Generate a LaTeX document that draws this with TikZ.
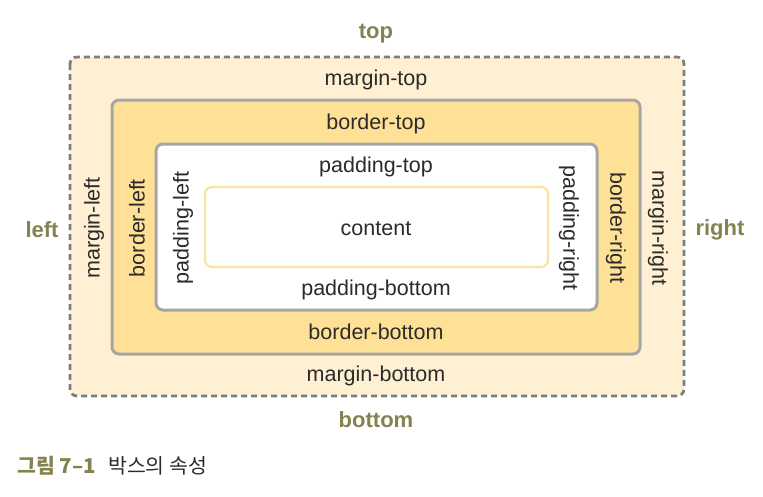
\documentclass[tikz,border=0pt]{standalone}
\usepackage{fontspec}
\setmainfont{Liberation Sans}
\newfontfamily\kofont{Noto Sans CJK KR}
\definecolor{olive}{HTML}{84834F}
\definecolor{marginfill}{HTML}{FFF0D3}
\definecolor{borderfill}{HTML}{FEE196}
\definecolor{boxgray}{HTML}{A6A6A6}
\definecolor{dashgray}{HTML}{7E7E7E}
\definecolor{contentline}{HTML}{FBE3A2}
\definecolor{txt}{HTML}{2B2B2B}
\tikzset{
  lbl/.style={text=txt,font=\fontsize{21.5}{25}\selectfont,inner sep=0pt},
  side/.style={text=olive,font=\bfseries\fontsize{22}{26}\selectfont,inner sep=0pt},
}
\begin{document}
\begin{tikzpicture}[x=1pt,y=-1pt]
\useasboundingbox (0,0) rectangle (763,496);
% margin
\draw[fill=marginfill,draw=dashgray,line width=2.8pt,dash pattern=on 6pt off 4pt,rounded corners=7pt] (70,57) rectangle (684,396);
% border
\draw[fill=borderfill,draw=boxgray,line width=3pt,rounded corners=7pt] (112,100) rectangle (640,354);
% padding
\draw[fill=white,draw=boxgray,line width=3pt,rounded corners=7pt] (156,144) rectangle (597,310);
% content
\draw[fill=white,draw=contentline,line width=2.2pt,rounded corners=7pt] (205,187) rectangle (548,267);
% side labels
\node[side] (top) at (376,34) {top};
\node[side] (left) at (42,230) {left};
\node[side] (right) at (720,230) {right};
\node[side] (bottom) at (376,420) {bottom};
% horizontal labels
\node[lbl] (mt) at (376,80) {margin-top};
\node[lbl] (bt) at (376,124) {border-top};
\node[lbl] (pt) at (376,167) {padding-top};
\node[lbl] (ct) at (376,229) {content};
\node[lbl] (pb) at (376,290) {padding-bottom};
\node[lbl] (bb) at (376,332) {border-bottom};
\node[lbl] (mb) at (376,376) {margin-bottom};
% vertical labels
\node[lbl,rotate=90] (ml) at (94,228) {margin-left};
\node[lbl,rotate=90] (bl) at (137,228) {border-left};
\node[lbl,rotate=90] (pl) at (183,228) {padding-left};
\node[lbl,rotate=-90] (pr) at (569,228) {padding-right};
\node[lbl,rotate=-90] (br) at (616,228) {border-right};
\node[lbl,rotate=-90] (mr) at (658,228) {margin-right};
% caption
\node[anchor=west,inner sep=0pt,text=olive,font=\kofont\bfseries\fontsize{20.5}{24}\selectfont] (cap1) at (17,466) {그림 7–1};
\node[anchor=west,inner sep=0pt,text=txt,font=\kofont\fontsize{20.5}{24}\selectfont] (cap2) at (108,466) {박스의 속성};
\end{tikzpicture}
\end{document}
